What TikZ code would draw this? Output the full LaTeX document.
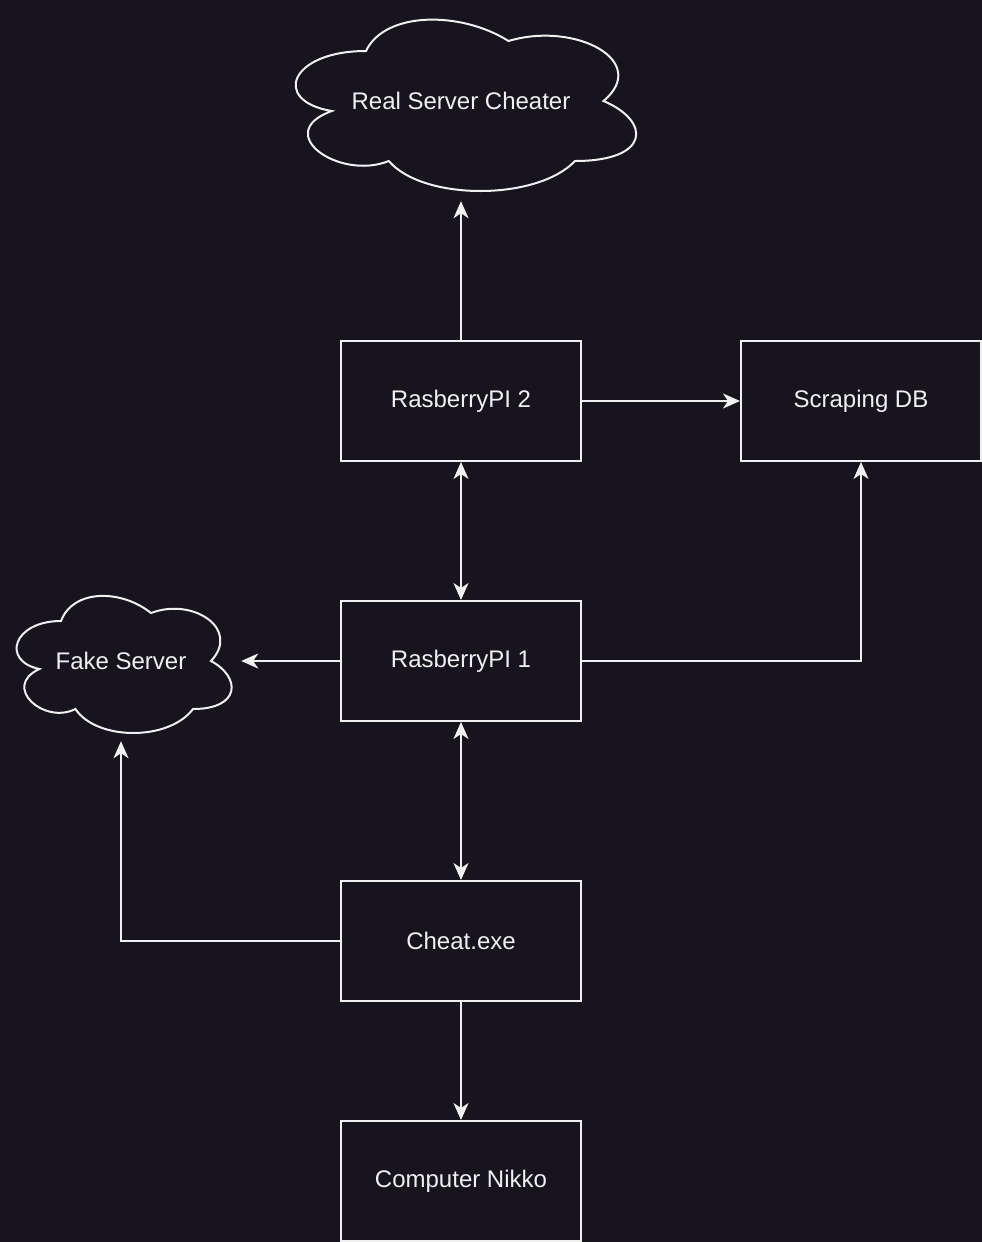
\documentclass[tikz,border=0pt]{standalone}
\usepackage{fontspec}
\setmainfont{Liberation Sans}
\usetikzlibrary{arrows.meta}
\definecolor{bg}{HTML}{18141D}
\definecolor{fg}{HTML}{F0F0F0}
\tikzset{
  boxnode/.style={draw=fg, line width=2pt, fill=bg, minimum width=240pt, minimum height=120pt, inner sep=0pt, text=fg, font=\fontsize{24}{28}\selectfont},
  cloudnode/.style={inner sep=0pt, text=fg, font=\fontsize{24}{28}\selectfont},
  cloudline/.style={draw=fg, line width=2pt, fill=bg},
  conn/.style={draw=fg, line width=2pt, -{Stealth[length=17pt,width=15pt,inset=5pt]}},
  biconn/.style={draw=fg, line width=2pt, {Stealth[length=17pt,width=15pt,inset=5pt]}-{Stealth[length=17pt,width=15pt,inset=5pt]}}
}
\newcommand\mycloud[3]{%
  \begin{scope}[shift={#1}, xscale=#2, yscale=#3]
  \path[cloudline] (0.25,0.25) .. controls (0.05,0.25) and (0,0.5) .. (0.16,0.55)
    .. controls (0,0.66) and (0.18,0.9) .. (0.31,0.8)
    .. controls (0.4,1) and (0.7,1) .. (0.8,0.8)
    .. controls (1,0.8) and (1,0.6) .. (0.875,0.5)
    .. controls (1,0.3) and (0.8,0.1) .. (0.625,0.2)
    .. controls (0.5,0.05) and (0.3,0.05) .. (0.25,0.25) -- cycle;
  \end{scope}}
\begin{document}
\begin{tikzpicture}[x=1pt, y=-1pt]
\fill[bg] (0,0) rectangle (982,1242);
\useasboundingbox (0,0) rectangle (982,1242);
\begin{scope}[shift={(1,1)}]
% clouds
\mycloud{(270,0)}{380}{200}
\node[cloudnode, minimum width=380pt, minimum height=200pt] (rsc) at (460,100) {Real Server Cheater};
\mycloud{(0,580)}{240}{160}
\node[cloudnode, minimum width=240pt, minimum height=160pt] (fake) at (120,660) {Fake Server};
% boxes
\node[boxnode] (rpi2) at (460,400) {RasberryPI 2};
\node[boxnode] (db) at (860,400) {Scraping DB};
\node[boxnode] (rpi1) at (460,660) {RasberryPI 1};
\node[boxnode] (cheat) at (460,940) {Cheat.exe};
\node[boxnode] (nikko) at (460,1180) {Computer Nikko};
% connectors
\draw[conn] (rpi2.north) -- (rsc.south);
\draw[conn] (rpi2.east) -- (db.west);
\draw[biconn] (rpi2.south) -- (rpi1.north);
\draw[conn] (rpi1.west) -- (fake.east);
\draw[conn] (rpi1.east) -| (db.south);
\draw[biconn] (rpi1.south) -- (cheat.north);
\draw[conn] (cheat.west) -| (fake.south);
\draw[conn] (cheat.south) -- (nikko.north);
\end{scope}
\end{tikzpicture}
\end{document}
